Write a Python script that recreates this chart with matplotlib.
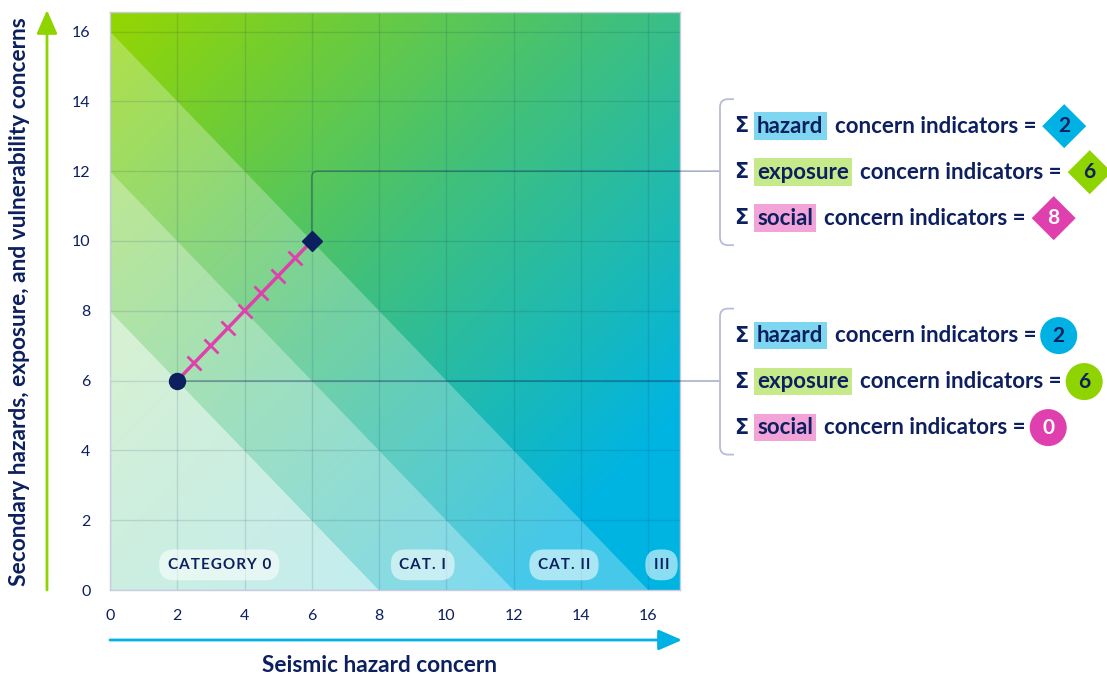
import numpy as np
import matplotlib
matplotlib.use("Agg")
import matplotlib.pyplot as plt
from matplotlib.colors import LinearSegmentedColormap
from matplotlib.patches import Polygon, PathPatch, Circle, RegularPolygon
from matplotlib.path import Path
from matplotlib.markers import MarkerStyle
from matplotlib.transforms import Affine2D

plt.rcParams['font.family'] = ['Lato', 'DejaVu Sans']

# data
x_ticks = [0, 2, 4, 6, 8, 10, 12, 14, 16]
y_ticks = [0, 2, 4, 6, 8, 10, 12, 14, 16]
cat_bounds = [8, 12, 16]
cat_labels = ['CATEGORY 0', 'CAT. I', 'CAT. II', 'III']
cat_x = [3.25, 9.3, 13.5, 16.4]

start_pt = (2, 6)    # before social indicators
end_pt = (6, 10)     # after social indicators
n_social = 8

rows_labels = ['hazard', 'exposure', 'social']
top_values = [2, 6, 8]       # diamond point
bottom_values = [2, 6, 0]    # circle point

NAVY = '#0c1f5e'
MAGENTA = '#e03fae'
CYAN = '#00b2e3'
GREEN = '#8fd400'
key_bg = ['#7ed6f0', '#c6ea8a', '#f2a3d8']
key_marker = [CYAN, GREEN, MAGENTA]
num_color = [NAVY, NAVY, 'white']

W, H = 1107, 675
fig = plt.figure(figsize=(W / 100, H / 100), dpi=100)
ax = fig.add_axes([110 / W, 1 - 590 / H, 570 / W, 578 / H])
xmax, ymax = 16.95, 16.56
ax.set_xlim(0, xmax)
ax.set_ylim(0, ymax)

# background gradient
gx, gy = np.meshgrid(np.linspace(0, 1, 400), np.linspace(0, 1, 400))
t = (gx + (1 - gy)) / 2
cmap = LinearSegmentedColormap.from_list(
    'g', [(0, '#95d600'), (0.45, '#40c07c'), (0.85, '#00b4e2'), (1, '#00b4e2')])
ax.imshow(t, cmap=cmap, extent=[0, xmax, 0, ymax], origin='lower',
          aspect='auto', zorder=0, vmin=0, vmax=1)

# category bands (whitened)
band_alpha = [0.75, 0.5, 0.28]
lo = 0
for b, a in zip(cat_bounds, band_alpha):
    pts = [(lo, 0), (b, 0), (0, b), (0, lo)]
    ax.add_patch(Polygon(pts, closed=True, facecolor='white', alpha=a,
                         edgecolor='none', zorder=1))
    lo = b

ax.set_xticks(x_ticks)
ax.set_yticks(y_ticks)
ax.grid(True, color=NAVY, alpha=0.12, lw=1)
for gl in ax.get_xgridlines() + ax.get_ygridlines():
    gl.set_zorder(2)
ax.tick_params(length=0, labelsize=11.5, labelcolor=NAVY, pad=14)
for s in ax.spines.values():
    s.set_color('#c9cbe0')
    s.set_linewidth(1)

# category pills (letter-spaced)
for lab, cx in zip(cat_labels, cat_x):
    spaced = '\u200a'.join(lab)
    ax.text(cx, 0.72, spaced, ha='center', va='center', fontsize=11,
            fontweight='bold', color=NAVY, zorder=4,
            bbox=dict(boxstyle='round,pad=0.55,rounding_size=0.95',
                      fc='white', ec='none', alpha=0.55))

# overlay axes in pixel coords
ov = fig.add_axes([0, 0, 1, 1])
ov.set_xlim(0, W)
ov.set_ylim(H, 0)
ov.axis('off')

def to_px(p):
    d = ax.transData.transform(p)
    return d[0], H - d[1]

# connectors
sx, sy = to_px(start_pt)
ex, ey = to_px(end_pt)
_, y12 = to_px((0, 12))
bx = 720
r = 6
conn_col = (12 / 255, 31 / 255, 94 / 255, 0.35)
p1 = Path([(ex, ey), (ex, y12 + r), (ex, y12), (ex + r, y12), (bx, y12)],
          [Path.MOVETO, Path.LINETO, Path.CURVE3, Path.CURVE3, Path.LINETO])
ax.add_patch(PathPatch(p1, transform=ov.transData, fc='none', ec=conn_col,
                       lw=1.2, clip_on=False, zorder=5))
ax.plot([sx, bx], [sy, sy], transform=ov.transData, color=conn_col,
        lw=1.2, clip_on=False, zorder=5)

# social path with ticks
ax.plot([start_pt[0], end_pt[0]], [start_pt[1], end_pt[1]], color=MAGENTA,
        lw=2.5, zorder=6, solid_capstyle='butt')
k = np.arange(1, n_social) / n_social
tx = start_pt[0] + k * (end_pt[0] - start_pt[0])
ty = start_pt[1] + k * (end_pt[1] - start_pt[1])
tick_m = MarkerStyle('|', transform=Affine2D().rotate_deg(45))
ax.plot(tx, ty, ls='none', marker=tick_m, ms=14, mew=2, color=MAGENTA, zorder=6)
ax.plot(*start_pt, marker='o', ms=11.5, color=NAVY, zorder=7, clip_on=False)
ax.plot(*end_pt, marker='D', ms=10.5, color=NAVY, zorder=7, clip_on=False)

# axis arrows and titles
ov.annotate('', xy=(47, 10), xytext=(47, 590),
            arrowprops=dict(arrowstyle='-|>,head_length=0.8,head_width=0.35',
                            color=GREEN, lw=2, shrinkA=0, shrinkB=0,
                            mutation_scale=18))
ov.annotate('', xy=(682, 640), xytext=(110, 640),
            arrowprops=dict(arrowstyle='-|>,head_length=0.8,head_width=0.35',
                            color=CYAN, lw=2, shrinkA=0, shrinkB=0,
                            mutation_scale=18))
ov.text(380, 665, 'Seismic hazard concern', ha='center', va='center',
        fontsize=16.3, fontweight='bold', color=NAVY)
ov.text(20, 302, 'Secondary hazards, exposure, and vulnerability concerns',
        ha='center', va='center', rotation=90, fontsize=16.4,
        fontweight='bold', color=NAVY)

# annotation blocks
fig.canvas.draw()
rend = fig.canvas.get_renderer()
br_col = '#b9bcd8'

def bracket(cy):
    top, bot = cy - 72, cy + 74
    rr = 8
    p = Path([(bx + 14, top), (bx + rr, top), (bx, top), (bx, top + rr),
              (bx, bot - rr), (bx, bot), (bx + rr, bot), (bx + 14, bot)],
             [Path.MOVETO, Path.LINETO, Path.CURVE3, Path.CURVE3,
              Path.LINETO, Path.CURVE3, Path.CURVE3, Path.LINETO])
    ov.add_patch(PathPatch(p, fc='none', ec=br_col, lw=1.3))

def block(cy, values, shape):
    bracket(cy)
    for i, (lab, v) in enumerate(zip(rows_labels, values)):
        yy = cy + (i - 1) * 46 + 1
        ov.text(734, yy, 'Σ', ha='left', va='center', fontsize=15,
                fontweight='bold', color=NAVY, family=['DejaVu Sans'])
        kt = ov.text(757, yy, lab, ha='left', va='center', fontsize=16,
                     fontweight='bold', color=NAVY,
                     bbox=dict(boxstyle='square,pad=0.15', fc=key_bg[i], ec='none'))
        fig.canvas.draw()
        kb = kt.get_bbox_patch().get_window_extent(rend)
        ct = ov.text(kb.x1 + 8, yy, 'concern indicators =', ha='left',
                     va='center', fontsize=16, fontweight='bold', color=NAVY)
        cb = ct.get_window_extent(rend)
        if shape == 'D':
            rad = 22
            cx = cb.x1 + 6 + rad
            ov.add_patch(RegularPolygon((cx, yy), 4, radius=rad,
                                        fc=key_marker[i], ec='none'))
        else:
            rad = 18.5
            cx = cb.x1 + 4 + rad
            ov.add_patch(Circle((cx, yy), rad, fc=key_marker[i], ec='none'))
        ov.text(cx, yy, str(v), ha='center', va='center', fontsize=15,
                fontweight='bold', color=num_color[i])

block(y12, top_values, 'D')
block(sy, bottom_values, 'o')

fig.savefig('out.png', dpi=100)
